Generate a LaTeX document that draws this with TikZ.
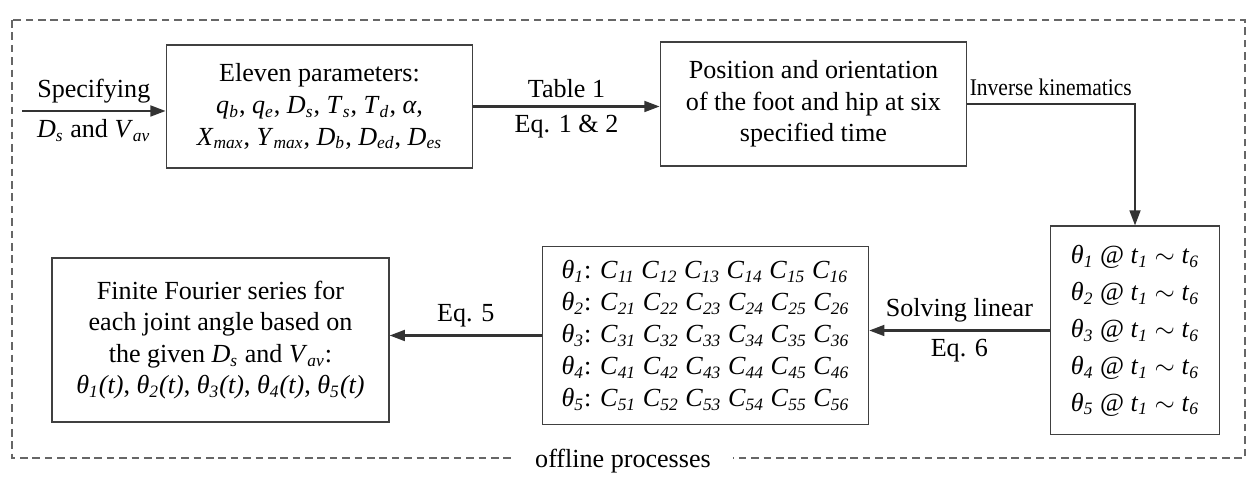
\documentclass[tikz,border=0pt]{standalone}
\usepackage{fontspec}
\setmainfont{Liberation Serif}
\usetikzlibrary{arrows.meta}
\newcommand{\vs}[2]{\textit{#1}\textsubscript{\textit{#2}}}
\newcommand{\crow}[1]{\vs{θ}{#1}: \vs{C}{#11} \vs{C}{#12} \vs{C}{#13} \vs{C}{#14} \vs{C}{#15} \vs{C}{#16}}
\newcommand{\trow}[1]{\vs{θ}{#1} @ \vs{t}{1} $\sim$ \vs{t}{6}}
\begin{document}
\begin{tikzpicture}[x=0.46pt,y=-0.46pt,
                    font=\fontsize{12}{14.5}\selectfont,
                    box/.style={draw=black!75,line width=0.6pt,align=center,inner sep=2pt},
                    flow/.style={draw=black!80,line width=1pt,-{Triangle[length=7pt,width=5pt]}},
                    frame/.style={draw=black!60,line width=0.5pt,dash pattern=on 3.5pt off 2.2pt}]
                    \useasboundingbox (0,0) rectangle (1250,482);

                    \draw[frame] (12,20) rectangle (1245,458);
                    \node[fill=white,inner xsep=10pt,inner ysep=1pt] (offline) at (623,461) {offline processes};

                    \coordinate (spec) at (22,111);

                    \node[box,minimum width=141pt,minimum height=56.6pt] (params) at (319.5,106.5)
                        {Eleven parameters:\\
                         \vs{q}{b}, \vs{q}{e}, \vs{D}{s}, \vs{T}{s}, \vs{T}{d}, \textit{α},\\
                         \vs{X}{max}, \vs{Y}{max}, \vs{D}{b}, \vs{D}{ed}, \vs{D}{es}};
                    \node[box,minimum width=141pt,minimum height=57pt] (pose) at (813.5,104)
                        {Position and orientation\\of the foot and hip at six\\specified time};
                    \node[box,minimum width=78pt,minimum height=96pt,
                          font=\fontsize{12}{17}\selectfont] (angles) at (1135,330.5)
                        {\trow{1}\\\trow{2}\\\trow{3}\\\trow{4}\\\trow{5}};
                    \node[box,minimum width=150pt,minimum height=82pt,align=left,
                          font=\fontsize{12}{14.7}\selectfont] (coefs) at (705.5,335.5)
                        {\crow{1}\\\crow{2}\\\crow{3}\\\crow{4}\\\crow{5}};
                    \node[box,minimum width=155pt,minimum height=75.4pt] (fourier) at (220.5,340)
                        {Finite Fourier series for\\each joint angle based on\\the given \vs{D}{s} and \vs{V}{av}:\\
                         \vs{θ}{1}\textit{(t)}, \vs{θ}{2}\textit{(t)}, \vs{θ}{3}\textit{(t)}, \vs{θ}{4}\textit{(t)}, \vs{θ}{5}\textit{(t)}};

                    \draw[flow] (spec) -- (spec -| params.west)
                        node[midway,above] {Specifying}
                        node[midway,below] {\vs{D}{s} and \vs{V}{av}};
                    \draw[flow] (params.east) -- (params.east -| pose.west)
                        node[midway,above] {Table 1}
                        node[midway,below] {Eq. 1 \& 2};
                    \draw[flow] (pose.east) -| (angles.north)
                        node[pos=0.5,anchor=south east,inner xsep=1pt,font=\fontsize{11}{13}\selectfont]
                        {\scalebox{0.9}[1]{Inverse kinematics}};
                    \draw[flow] (angles.west) -- (angles.west -| coefs.east)
                        node[midway,above,inner xsep=0pt] {Solving linear}
                        node[midway,below] {Eq. 6};
                    \draw[flow] (coefs.west) -- (coefs.west -| fourier.east)
                        node[midway,above] {Eq. 5};
                \end{tikzpicture}
\end{document}
